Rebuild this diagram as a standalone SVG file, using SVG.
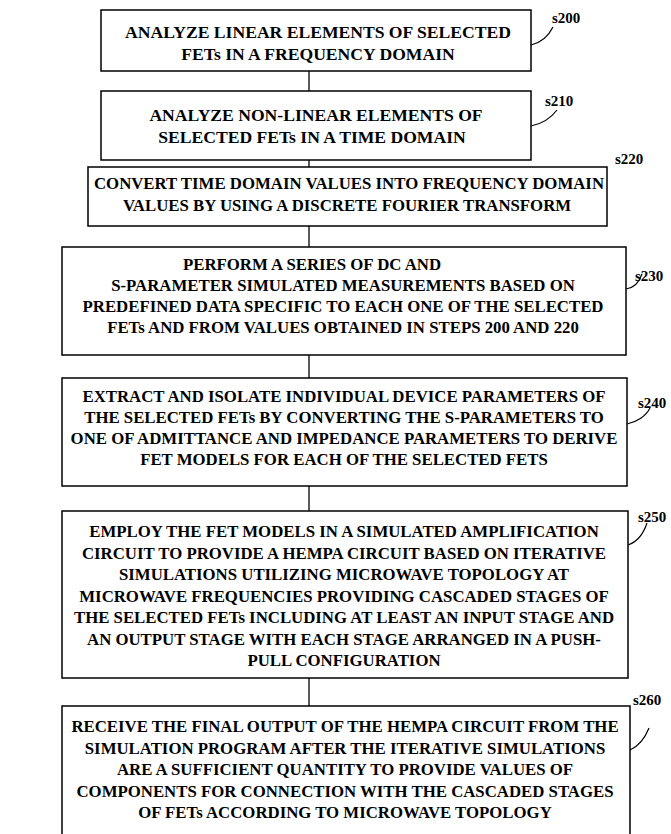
<svg xmlns="http://www.w3.org/2000/svg" width="671" height="834" viewBox="0 0 671 834">
  <style>
    .box { fill: #fff; stroke: #000; stroke-width: 1.5; }
    .txt { font-family: "Liberation Serif", "Times New Roman", serif; font-weight: bold; font-size: 16.8px; fill: #000; text-anchor: middle; }
    .big { font-size: 17.6px; }
    .lbl { font-family: "Liberation Serif", "Times New Roman", serif; font-weight: bold; font-size: 15px; fill: #000; }
    .wire { stroke: #000; stroke-width: 1.3; fill: none; }
    .lead { stroke: #000; stroke-width: 1.2; fill: none; }
  </style>
  <rect width="671" height="834" fill="#fff"/>

  <g id="connectors">
    <line class="wire" x1="309" y1="71" x2="309" y2="91"/>
    <line class="wire" x1="309" y1="160" x2="309" y2="167"/>
    <line class="wire" x1="309" y1="226" x2="309" y2="247"/>
    <line class="wire" x1="309" y1="355" x2="309" y2="378"/>
    <line class="wire" x1="309" y1="486" x2="309" y2="511"/>
    <line class="wire" x1="309" y1="678" x2="309" y2="706"/>
  </g>

  <g id="s200">
    <rect class="box" x="101" y="10" width="430" height="61"/>
    <text class="txt big" x="318" y="38">ANALYZE LINEAR ELEMENTS OF SELECTED</text>
    <text class="txt big" x="318" y="60">FETs IN A FREQUENCY DOMAIN</text>
    <path class="lead" d="M531,45 C540,43 548,37 553,27"/>
    <text class="lbl" x="552" y="23">s200</text>
  </g>

  <g id="s210">
    <rect class="box" x="101" y="91" width="430" height="69"/>
    <text class="txt big" x="316" y="121">ANALYZE NON-LINEAR ELEMENTS OF</text>
    <text class="txt big" x="312" y="143">SELECTED FETs IN A TIME DOMAIN</text>
    <path class="lead" d="M531,126 C541,124 551,118 557,110"/>
    <text class="lbl" x="545" y="106">s210</text>
  </g>

  <g id="s220">
    <rect class="box" x="88" y="167" width="519" height="59"/>
    <text class="txt" x="349" y="189">CONVERT TIME DOMAIN VALUES INTO FREQUENCY DOMAIN</text>
    <text class="txt" x="347" y="211">VALUES BY USING A DISCRETE FOURIER TRANSFORM</text>
    <text class="lbl" x="615" y="164">s220</text>
  </g>

  <g id="s230">
    <rect class="box" x="62" y="247" width="564" height="108"/>
    <text class="txt" x="312" y="270">PERFORM A SERIES OF DC AND</text>
    <text class="txt" x="343" y="291">S-PARAMETER SIMULATED MEASUREMENTS BASED ON</text>
    <text class="txt" x="343" y="312">PREDEFINED DATA SPECIFIC TO EACH ONE OF THE SELECTED</text>
    <text class="txt" x="343" y="333">FETs AND FROM VALUES OBTAINED IN STEPS 200 AND 220</text>
    <path class="lead" d="M626,289 C633,288 639,283 642,274"/>
    <text class="lbl" x="635" y="281">s230</text>
  </g>

  <g id="s240">
    <rect class="box" x="62" y="378" width="565" height="108"/>
    <text class="txt" x="344" y="402">EXTRACT AND ISOLATE INDIVIDUAL DEVICE PARAMETERS OF</text>
    <text class="txt" x="344" y="423">THE SELECTED FETs BY CONVERTING THE S-PARAMETERS TO</text>
    <text class="txt" x="344" y="444">ONE OF ADMITTANCE AND IMPEDANCE PARAMETERS TO DERIVE</text>
    <text class="txt" x="344" y="465">FET MODELS FOR EACH OF THE SELECTED FETS</text>
    <path class="lead" d="M627,424 C637,422 646,416 650,408"/>
    <text class="lbl" x="638" y="408">s240</text>
  </g>

  <g id="s250">
    <rect class="box" x="62" y="511" width="566" height="167"/>
    <text class="txt" x="344" y="537">EMPLOY THE FET MODELS IN A SIMULATED AMPLIFICATION</text>
    <text class="txt" x="344" y="558.5">CIRCUIT TO PROVIDE A HEMPA CIRCUIT BASED ON ITERATIVE</text>
    <text class="txt" x="344" y="580">SIMULATIONS UTILIZING MICROWAVE TOPOLOGY AT</text>
    <text class="txt" x="344" y="601.5">MICROWAVE FREQUENCIES PROVIDING CASCADED STAGES OF</text>
    <text class="txt" x="344" y="623">THE SELECTED FETs INCLUDING AT LEAST AN INPUT STAGE AND</text>
    <text class="txt" x="344" y="644.5">AN OUTPUT STAGE WITH EACH STAGE ARRANGED IN A PUSH-</text>
    <text class="txt" x="344" y="666">PULL CONFIGURATION</text>
    <path class="lead" d="M628,545 C637,542 643,535 647,523"/>
    <text class="lbl" x="638" y="522">s250</text>
  </g>

  <g id="s260">
    <rect class="box" x="62" y="706" width="568" height="140"/>
    <text class="txt" x="345" y="732">RECEIVE THE FINAL OUTPUT OF THE HEMPA CIRCUIT FROM THE</text>
    <text class="txt" x="345" y="753.5">SIMULATION PROGRAM AFTER THE ITERATIVE SIMULATIONS</text>
    <text class="txt" x="345" y="775">ARE A SUFFICIENT QUANTITY TO PROVIDE VALUES OF</text>
    <text class="txt" x="345" y="796.5">COMPONENTS FOR CONNECTION WITH THE CASCADED STAGES</text>
    <text class="txt" x="345" y="818">OF FETs ACCORDING TO MICROWAVE TOPOLOGY</text>
    <path class="lead" d="M630,750 C639,746 645,738 649,728"/>
    <text class="lbl" x="633" y="705">s260</text>
  </g>
</svg>
